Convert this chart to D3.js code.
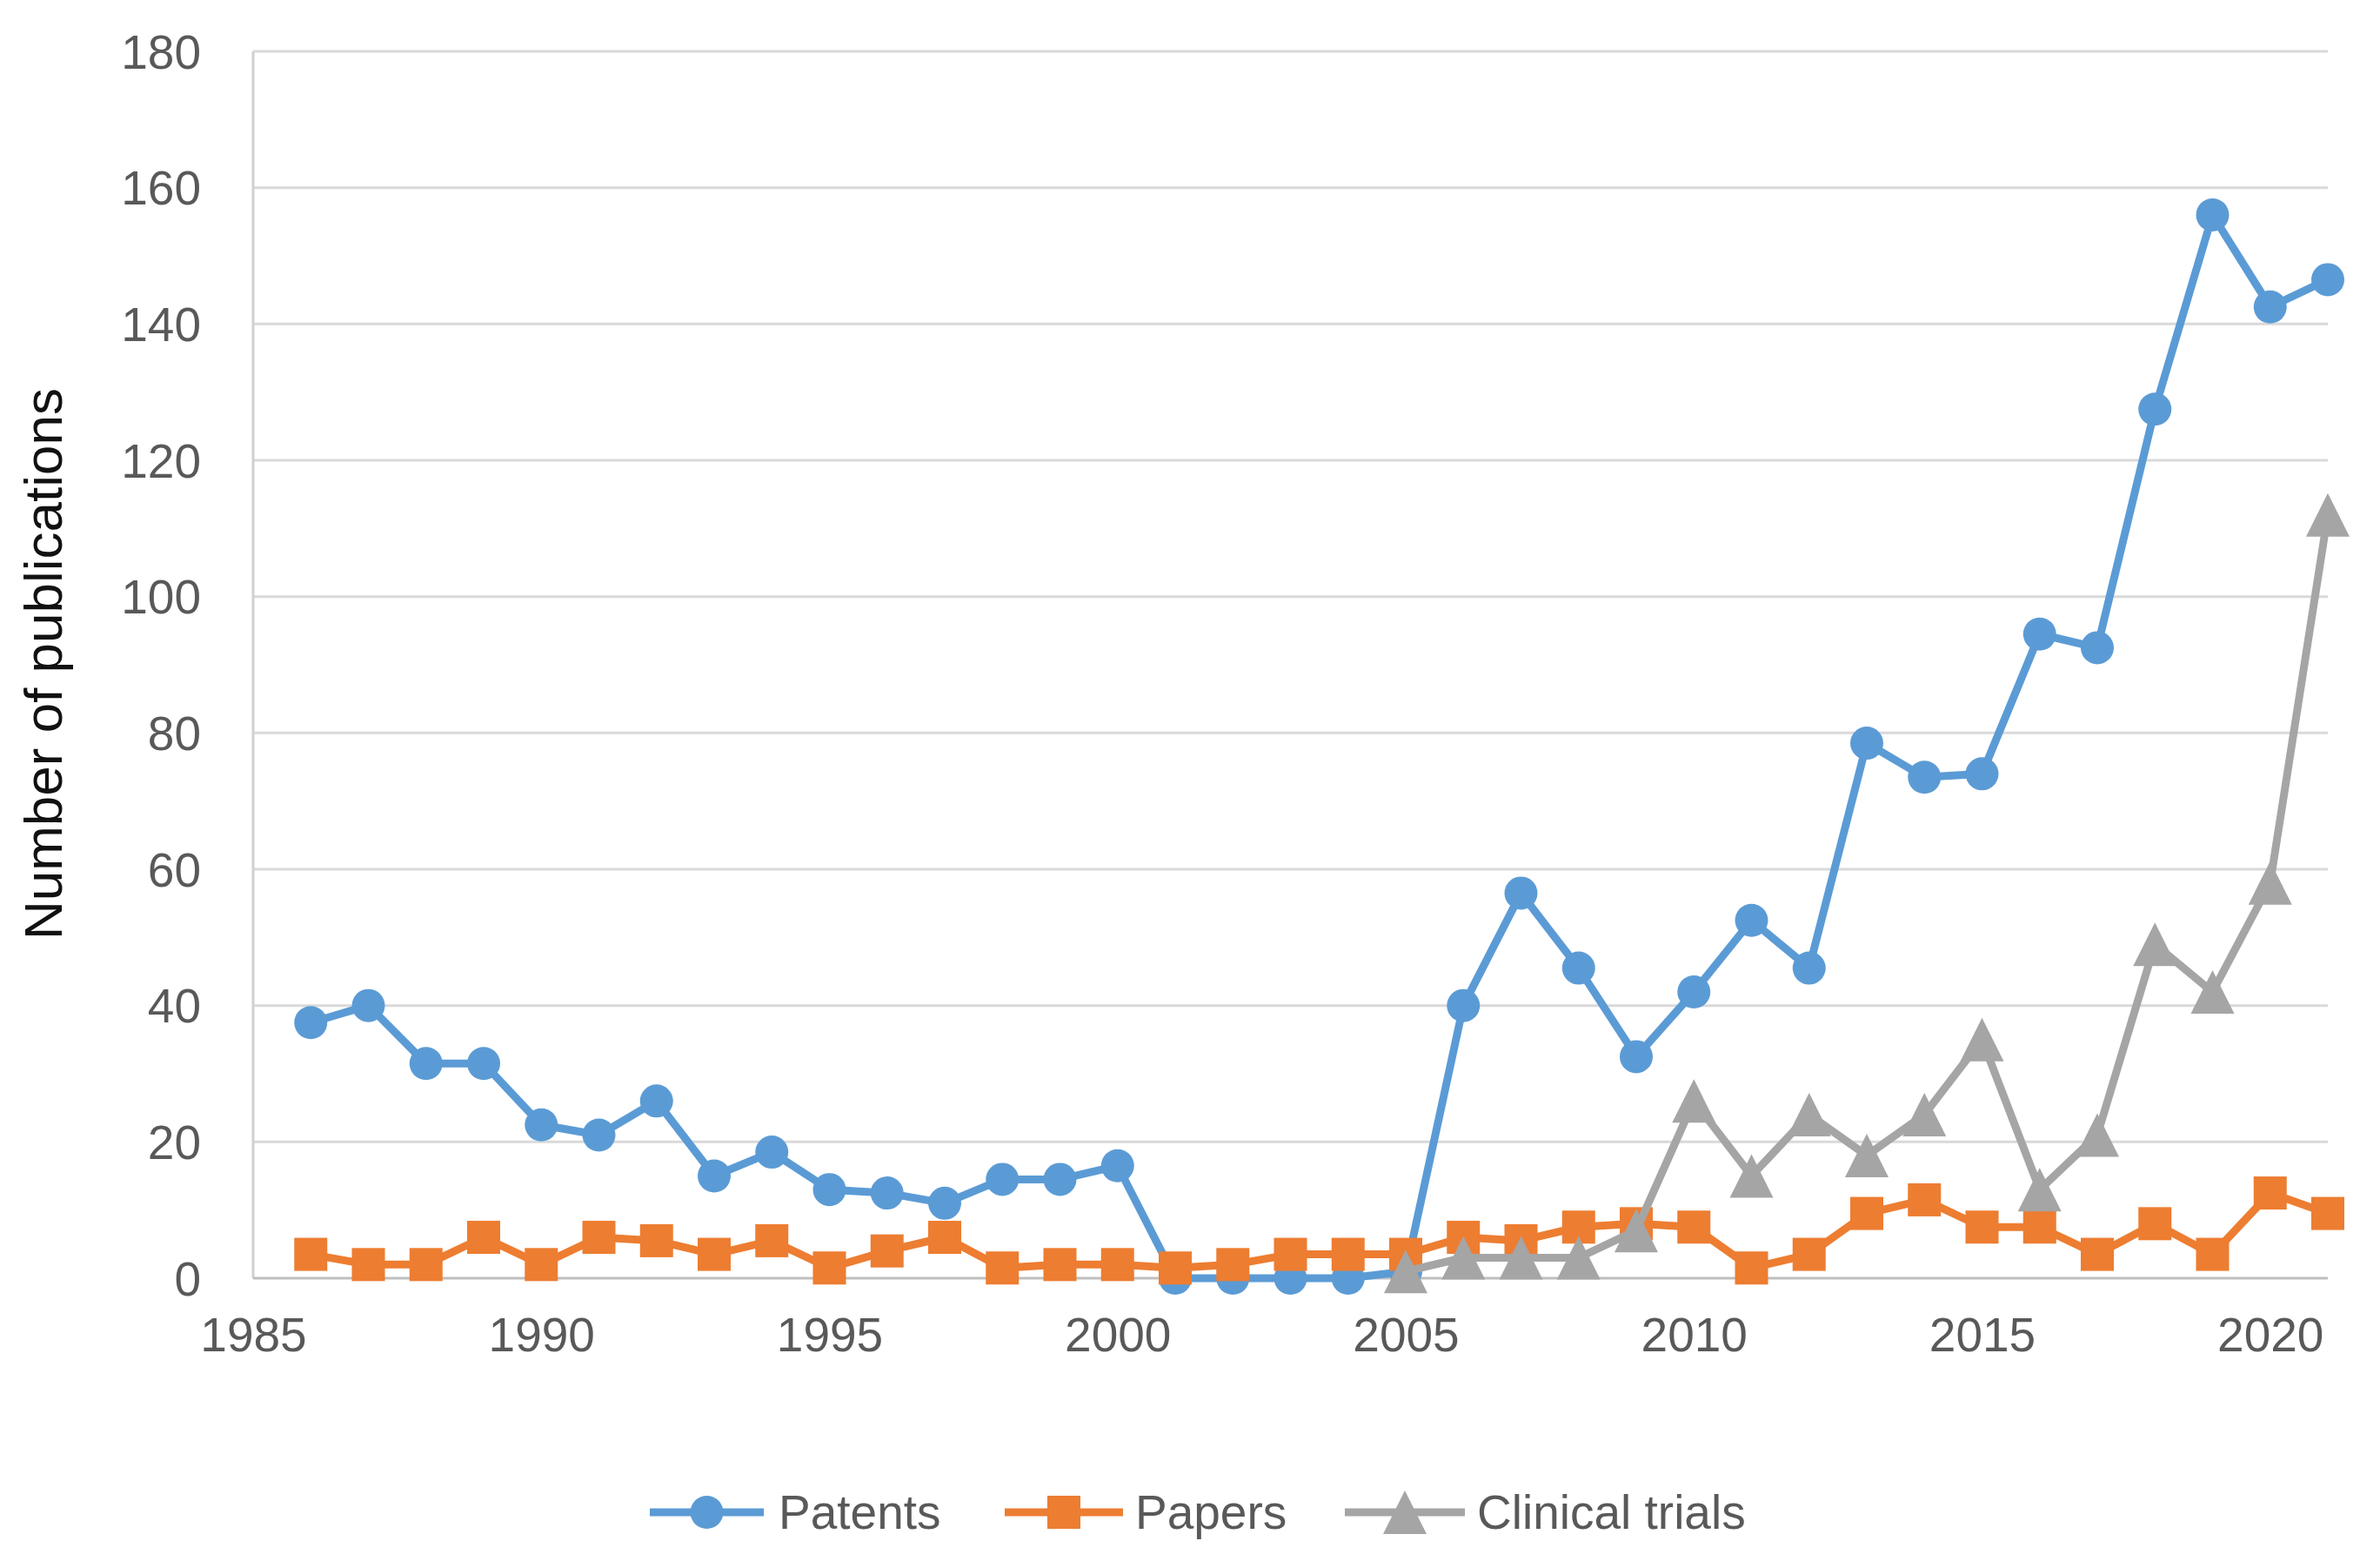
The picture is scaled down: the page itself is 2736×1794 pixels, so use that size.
<!DOCTYPE html>
<html>
<head>
<meta charset="utf-8">
<script src="https://cdn.jsdelivr.net/npm/d3@7"></script>
<style>
  html, body { margin: 0; padding: 0; background: #ffffff; }
  svg { display: block; }
  text { font-family: "Liberation Sans", Arial, sans-serif; }
</style>
</head>
<body>
<svg id="chart" width="2736" height="1794"></svg>
<script>
// ---- data ----
const years = d3.range(1986, 2022);
const patents = [37.5, 40, 31.5, 31.5, 22.5, 21, 26, 15, 18.5, 13, 12.5, 11, 14.5, 14.5, 16.5,
                 0, 0, 0, 0, 1, 40, 56.5, 45.5, 32.5, 42, 52.5, 45.5, 78.5, 73.5, 74,
                 94.5, 92.5, 127.5, 156, 142.5, 146.5];
const papers = [3.5, 2, 2, 6, 2, 6, 5.5, 3.5, 5.5, 1.5, 4, 6, 1.5, 2, 2,
                1.5, 2, 3.5, 3.5, 3.5, 6, 5.5, 7.5, 8, 7.5, 1.5, 3.5, 9.5, 11.5, 7.5,
                7.5, 3.5, 8, 3.5, 12.5, 9.5];
const trialYears = d3.range(2005, 2022);
const clinicalTrials = [1, 3, 3, 3, 7, 26, 15, 24, 18, 24, 35, 13, 21, 49, 42, 58, 112];
const yTicks = [0, 20, 40, 60, 80, 100, 120, 140, 160, 180];
const xTicks = [1985, 1990, 1995, 2000, 2005, 2010, 2015, 2020];
const seriesNames = ["Patents", "Papers", "Clinical trials"];
const yTitle = "Number of publications";

// ---- layout ----
const svg = d3.select("#chart");
const plotLeft = 291, plotRight = 2676, plotTop = 59, plotBottom = 1469;
const x = d3.scaleLinear().domain([1985, 2021]).range([plotLeft, plotRight]);
const y = d3.scaleLinear().domain([0, 180]).range([plotBottom, plotTop]);

const colors = ["#5B9BD5", "#ED7D31", "#A5A5A5"];
const tickColor = "#595959";
const fontSize = 55;
const lineW = 9;

// gridlines
svg.append("g").selectAll("line").data(yTicks.filter(d => d > 0)).join("line")
  .attr("x1", plotLeft).attr("x2", plotRight)
  .attr("y1", d => y(d)).attr("y2", d => y(d))
  .attr("stroke", "#D9D9D9").attr("stroke-width", 3);
// left axis line
svg.append("line").attr("x1", plotLeft).attr("x2", plotLeft).attr("y1", y(180)).attr("y2", y(0))
  .attr("stroke", "#D0D0D0").attr("stroke-width", 3);
// bottom axis line
svg.append("line").attr("x1", plotLeft).attr("x2", plotRight).attr("y1", y(0)).attr("y2", y(0))
  .attr("stroke", "#BFBFBF").attr("stroke-width", 3);

// y axis labels
const yAxis = svg.append("g").attr("transform", `translate(${plotLeft},0)`)
  .call(d3.axisLeft(y).tickValues(yTicks).tickSize(0).tickPadding(60));
yAxis.select(".domain").remove();
yAxis.selectAll("text").attr("font-size", fontSize).attr("fill", tickColor)
  .attr("font-family", "Liberation Sans, Arial, sans-serif").attr("dy", "0.35em");

// x axis labels
const xAxis = svg.append("g").attr("transform", `translate(0,${plotBottom})`)
  .call(d3.axisBottom(x).tickValues(xTicks).tickFormat(d3.format("d")).tickSize(0).tickPadding(84));
xAxis.select(".domain").remove();
xAxis.selectAll("text").attr("font-size", fontSize).attr("fill", tickColor)
  .attr("font-family", "Liberation Sans, Arial, sans-serif").attr("dy", "0");

// y title
svg.append("text")
  .attr("transform", `translate(49,${(441 + 1085) / 2}) rotate(-90)`)
  .attr("text-anchor", "middle").attr("dominant-baseline", "central")
  .attr("font-size", 62).attr("fill", "#111111")
  .text(yTitle);

// markers
function drawMarker(g, kind, cx, cy, color) {
  if (kind === 0) {
    g.append("circle").attr("cx", cx).attr("cy", cy).attr("r", 19).attr("fill", color);
  } else if (kind === 1) {
    const s = 38;
    g.append("rect").attr("x", cx - s / 2).attr("y", cy - s / 2).attr("width", s).attr("height", s).attr("fill", color);
  } else {
    const w = 50, h = 50;
    g.append("path").attr("d", `M${cx},${cy - h / 2}L${cx + w / 2},${cy + h / 2}L${cx - w / 2},${cy + h / 2}Z`).attr("fill", color);
  }
}

const seriesData = [
  years.map((yr, i) => ({ yr, v: patents[i] })),
  years.map((yr, i) => ({ yr, v: papers[i] })),
  trialYears.map((yr, i) => ({ yr, v: clinicalTrials[i] }))
];
const line = d3.line().x(d => x(d.yr)).y(d => y(d.v));

seriesData.forEach((data, k) => {
  const g = svg.append("g");
  g.append("path").datum(data).attr("d", line)
    .attr("fill", "none").attr("stroke", colors[k]).attr("stroke-width", lineW)
    .attr("stroke-linejoin", "round");
  data.forEach(d => drawMarker(g, k, x(d.yr), y(d.v), colors[k]));
});

// legend
const legendY = 1738;
const legendItems = [
  { x1: 747, x2: 878, tx: 895 },
  { x1: 1155, x2: 1291, tx: 1305 },
  { x1: 1546, x2: 1684, tx: 1698 }
];
legendItems.forEach((it, k) => {
  const g = svg.append("g");
  g.append("line").attr("x1", it.x1).attr("x2", it.x2).attr("y1", legendY).attr("y2", legendY)
    .attr("stroke", colors[k]).attr("stroke-width", lineW);
  drawMarker(g, k, (it.x1 + it.x2) / 2, legendY, colors[k]);
  g.append("text").attr("x", it.tx).attr("y", legendY).attr("dy", "0.35em")
    .attr("font-size", fontSize).attr("fill", tickColor).text(seriesNames[k]);
});
</script>
</body>
</html>
